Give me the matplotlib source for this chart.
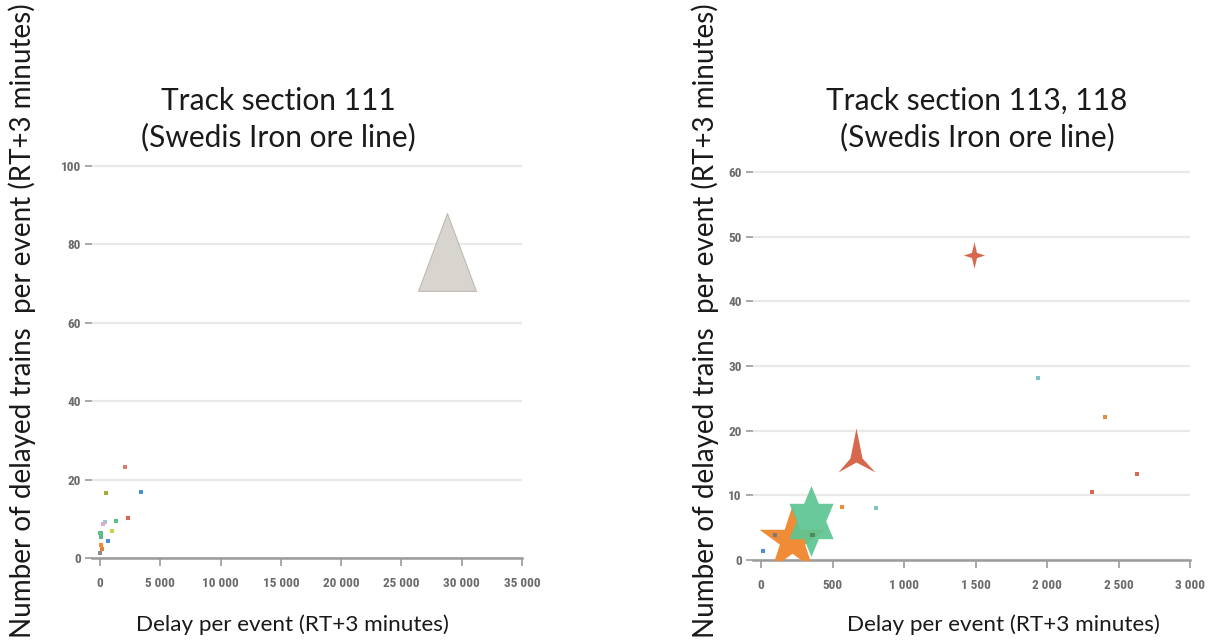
import numpy as np
import matplotlib
matplotlib.use('Agg')
import matplotlib.pyplot as plt
from matplotlib.path import Path
from matplotlib.ticker import FuncFormatter
from matplotlib import font_manager

# ---- data ----
# Track section 111: small events near the origin
left_x = [2070, 500, 3400, 2300, 1330, 400, 250, 1000, 660, 40, 120, 80, 150, 30]
left_y = [23.2, 16.6, 16.8, 10.2, 9.4, 9.2, 8.7, 6.9, 4.3, 6.4, 5.4, 3.3, 2.3, 1.3]
left_c = ['#e07b6a', '#a8a83a', '#4a90d9', '#d6694f', '#5cbf8e', '#9fc4d8', '#e6a6c8',
          '#c8d04a', '#4a90d9', '#5cbf8e', '#66b38a', '#f08c37', '#e0803a', '#8a8a8a']
# big event
left_big_x = [28800]
left_big_y = [78.1]

# Track section 113, 118: small events
right_x = [1937, 2406, 2629, 2315, 804, 566, 14, 98, 360]
right_y = [28.1, 22.1, 13.3, 10.5, 8.0, 8.2, 1.4, 3.9, 3.9]
right_c = ['#7fc4c4', '#e0903a', '#d6694f', '#d6694f', '#7fc4c4', '#f08c37',
           '#4a90d9', '#7a7a7a', '#4e8a5e']
# big events
star4_x, star4_y = [1490], [47.1]     # red four point star
tri3_x, tri3_y = [663], [16.2]        # red three point star
hexa_x, hexa_y = [353], [6.0]         # green six point star
star5_x, star5_y = [217], [3.1]       # orange five point star

left_yticks = [0, 20, 40, 60, 80, 100]
left_xticks = [0, 5000, 10000, 15000, 20000, 25000, 30000, 35000]
right_yticks = [0, 10, 20, 30, 40, 50, 60]
right_xticks = [0, 500, 1000, 1500, 2000, 2500, 3000]

title_left = ['Track section 111', '(Swedis Iron ore line)']
title_right = ['Track section 113, 118', '(Swedis Iron ore line)']
ylab = 'Number of delayed trains  per event (RT+3 minutes)'
xlab = 'Delay per event (RT+3 minutes)'

# ---- marker shapes ----
tri_tall = Path([(0, 39), (-29, -39), (29, -39), (0, 39)],
                [Path.MOVETO, Path.LINETO, Path.LINETO, Path.CLOSEPOLY])
tri_star = Path([(0, 27), (6, -3), (19, -17), (0, -7), (-18, -17), (-6, -3), (0, 27)],
                [Path.MOVETO] + [Path.LINETO] * 5 + [Path.CLOSEPOLY])
four_star = Path([(0, 13), (2.5, 2.5), (10.5, 0), (2.5, -2.5), (0, -13), (-2.5, -2.5),
                  (-10.5, 0), (-2.5, 2.5), (0, 13)],
                 [Path.MOVETO] + [Path.LINETO] * 7 + [Path.CLOSEPOLY])
ang = np.deg2rad(90 + 30 * np.arange(12))
rad = np.where(np.arange(12) % 2 == 0, 1.0, 0.577)
hv = np.column_stack([0.72 * rad * np.cos(ang), rad * np.sin(ang)])
hv = np.vstack([hv, hv[:1]])
hexagram = Path(hv, [Path.MOVETO] + [Path.LINETO] * 11 + [Path.CLOSEPOLY])

# pick a narrow font for the tick numbers if one is installed
tick_family = 'DejaVu Sans'
for name in ['Liberation Sans Narrow', 'DejaVu Sans Condensed', 'Roboto Condensed',
             'Open Sans Condensed', 'Noto Sans Condensed']:
    try:
        font_manager.findfont(name, fallback_to_default=False)
        tick_family = name
        break
    except ValueError:
        pass
tick_size = 9.5 if tick_family != 'DejaVu Sans' else 7.8
text_font = ['Lato', 'DejaVu Sans']


def thousands(v, pos):
    return '{:,.0f}'.format(v).replace(',', ' ')


def style(ax, yticks, xticks):
    for s in ['top', 'right', 'left']:
        ax.spines[s].set_visible(False)
    ax.spines['bottom'].set_color('#9a9a9a')
    ax.spines['bottom'].set_linewidth(1.8)
    ax.set_yticks(yticks)
    ax.set_xticks(xticks)
    ax.xaxis.set_major_formatter(FuncFormatter(thousands))
    ax.tick_params(axis='y', length=5, width=1.2, color='#9a9a9a', pad=3)
    ax.tick_params(axis='x', length=6, width=1.2, color='#9a9a9a', pad=8)
    for lab in ax.get_xticklabels() + ax.get_yticklabels():
        lab.set_fontfamily(tick_family)
        lab.set_fontweight('bold')
        lab.set_fontsize(tick_size)
        lab.set_color('#6a6a6a')
    ax.grid(axis='y', color='#e9e9e9', linewidth=1.6)
    ax.set_axisbelow(True)


fig = plt.figure(figsize=(12.21, 6.41), dpi=100)

# left panel
ax1 = fig.add_axes([0.07535, 0.12949, 0.35217, 0.6237])
ax1.set_xlim(-660, 35000)
ax1.set_ylim(0, 102)
style(ax1, left_yticks, left_xticks)
ax1.scatter(left_big_x, left_big_y, marker=tri_tall, s=56 ** 2, color='#d7d5cd',
            edgecolor='#bdbbb3', linewidth=0.8, zorder=3)
ax1.scatter(left_x, left_y, marker='s', s=9, c=left_c, linewidths=0, zorder=4)

# right panel
ax2 = fig.add_axes([0.61671, 0.12637, 0.3579, 0.6154])
ax2.set_xlim(-56, 3000)
ax2.set_ylim(0, 61)
style(ax2, right_yticks, right_xticks)
ax2.scatter(star5_x, star5_y, marker='*', s=50 ** 2, color='#f08c37', linewidths=0, zorder=3)
ax2.scatter(hexa_x, hexa_y, marker=hexagram, s=51 ** 2, color='#5ec592', alpha=0.93,
            linewidths=0, zorder=4)
ax2.scatter(tri3_x, tri3_y, marker=tri_star, s=39 ** 2, color='#d7674d', linewidths=0, zorder=4)
ax2.scatter(star4_x, star4_y, marker=four_star, s=19 ** 2, color='#d7674d', linewidths=0, zorder=4)
ax2.scatter(right_x, right_y, marker='s', s=9, c=right_c, linewidths=0, zorder=5)

# titles and axis labels as figure text
for (cx, lines) in [(278, title_left), (977, title_right)]:
    fig.text(cx / 1221, 1 - 101 / 641, lines[0], ha='center', va='center',
             fontsize=21.5, family=text_font, color='#1a1a1a')
    fig.text(cx / 1221, 1 - 137 / 641, lines[1], ha='center', va='center',
             fontsize=21.5, family=text_font, color='#1a1a1a')
for cx in [22, 705]:
    fig.text(cx / 1221, 0.5, ylab, rotation=90, ha='center', va='center',
             fontsize=20, family=text_font, color='#1a1a1a')
for cx in [292, 1003]:
    fig.text(cx / 1221, 1 - 625 / 641, xlab, ha='center', va='center',
             fontsize=16.2, family=text_font, color='#1a1a1a')

fig.savefig('out.png', dpi=100)
